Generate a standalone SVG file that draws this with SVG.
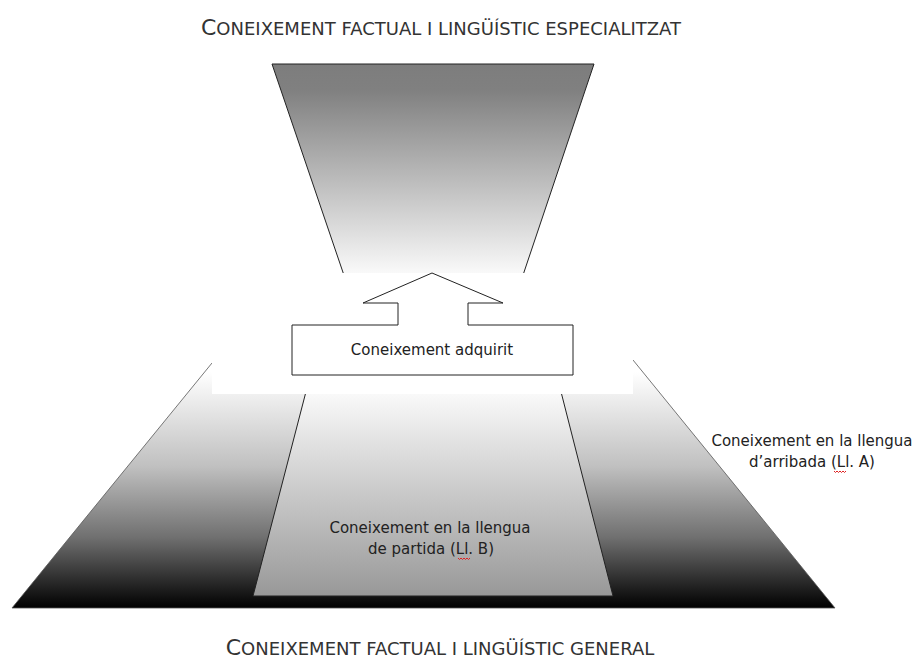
<svg xmlns="http://www.w3.org/2000/svg" width="919" height="659" viewBox="0 0 919 659">
  <defs>
    <linearGradient id="gTop" gradientUnits="userSpaceOnUse" x1="0" y1="64" x2="0" y2="282">
      <stop offset="0" stop-color="#7d7d7d"/>
      <stop offset="0.12" stop-color="#808080"/>
      <stop offset="1" stop-color="#ffffff"/>
    </linearGradient>
    <linearGradient id="gBase" gradientUnits="userSpaceOnUse" x1="0" y1="372" x2="0" y2="608">
      <stop offset="0" stop-color="#ffffff"/>
      <stop offset="0.4" stop-color="#c0c0c0"/>
      <stop offset="0.7" stop-color="#707070"/>
      <stop offset="1" stop-color="#000000"/>
    </linearGradient>
    <linearGradient id="gInner" gradientUnits="userSpaceOnUse" x1="0" y1="390" x2="0" y2="596">
      <stop offset="0" stop-color="#fbfbfb"/>
      <stop offset="1" stop-color="#989898"/>
    </linearGradient>
    <style>
      .title { font-family: "DejaVu Sans", Verdana, sans-serif; fill: #333333; }
      .lbl { font-family: "DejaVu Sans", Verdana, sans-serif; font-size: 15px; fill: #222222; text-anchor: middle; }
      .edge { stroke: #222222; stroke-width: 1; }
      .thin { stroke: #555555; stroke-width: 0.8; }
      .squig { fill: none; stroke: #e02020; stroke-width: 1; }
    </style>
  </defs>

  <g id="title-top">
    <text class="title" x="441" y="35" text-anchor="middle"><tspan font-size="22">C</tspan><tspan font-size="18">ONEIXEMENT FACTUAL I LINGÜÍSTIC ESPECIALITZAT</tspan></text>
  </g>

  <g id="specialised">
    <polygon points="272,64 594,64 518,290 349,290" fill="url(#gTop)" class="edge"/>
  </g>

  <g id="target-language">
    <polygon points="12,608 212,363 633,360 835,608" fill="url(#gBase)" class="thin"/>
  </g>

  <g id="source-language">
    <polygon points="309,380 558,380 613,596 253,596" fill="url(#gInner)" class="edge"/>
  </g>

  <rect id="mask" x="212" y="273" width="421" height="121" fill="#ffffff"/>

  <g id="connectors"></g>

  <g id="acquired">
    <polygon points="432,273 503,303 468,303 468,325 573,325 573,375 292,375 292,325 398,325 398,303 363,303" fill="#ffffff" class="edge"/>
    <text class="lbl" x="432" y="355">Coneixement adquirit</text>
  </g>

  <g id="label-b">
    <text class="lbl" x="430" y="533">Coneixement en la llengua</text>
    <text class="lbl" x="431" y="554">de partida (Ll. B)</text>
    <path class="squig" d="M458,558 l1.5,1.5 l1.5,-1.5 l1.5,1.5 l1.5,-1.5 l1.5,1.5 l1.5,-1.5 l1.5,1.5 l1.5,-1.5"/>
  </g>

  <g id="label-a">
    <text class="lbl" x="812" y="446">Coneixement en la llengua</text>
    <text class="lbl" x="812" y="467">d’arribada (Ll. A)</text>
    <path class="squig" d="M834,471 l1.5,1.5 l1.5,-1.5 l1.5,1.5 l1.5,-1.5 l1.5,1.5 l1.5,-1.5 l1.5,1.5 l1.5,-1.5"/>
  </g>

  <g id="title-bottom">
    <text class="title" x="440" y="655" text-anchor="middle"><tspan font-size="22">C</tspan><tspan font-size="18">ONEIXEMENT FACTUAL I LINGÜÍSTIC GENERAL</tspan></text>
  </g>
</svg>
